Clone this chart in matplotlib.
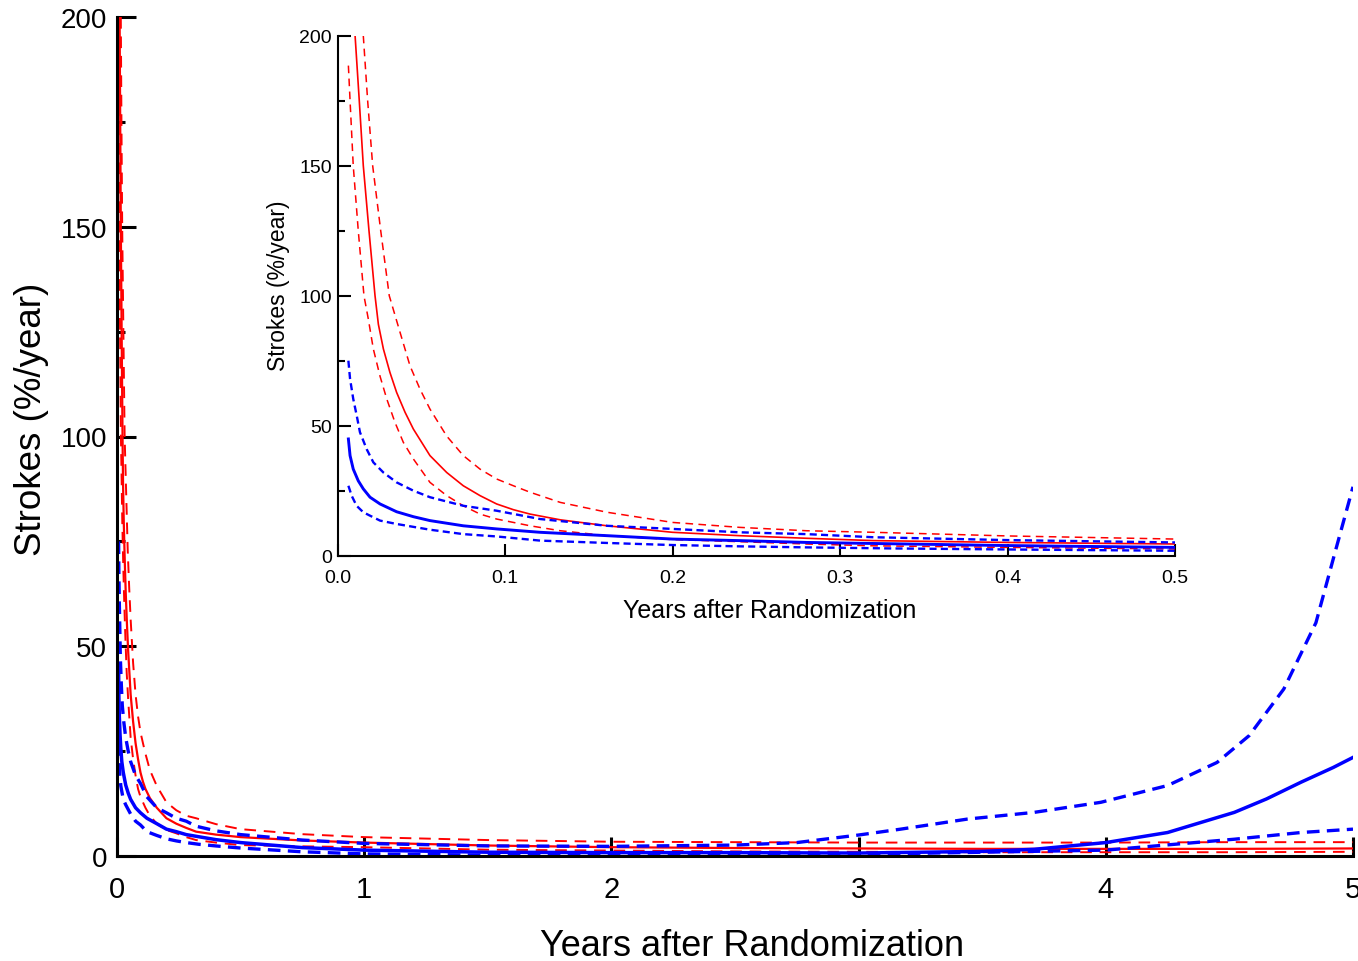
import matplotlib
matplotlib.use("Agg")
import matplotlib.pyplot as plt
from matplotlib.ticker import MultipleLocator

plt.rcParams["font.family"] = ["Liberation Sans", "DejaVu Sans"]

# -----------------------------
# Data (years, strokes %/year)
# -----------------------------

red_mid_t = [0.0105, 0.0130, 0.0154, 0.0188, 0.0224, 0.0244, 0.0274, 0.0313, 0.0353, 0.0403,
             0.0453, 0.0552, 0.0652, 0.0751, 0.0851, 0.095, 0.105, 0.115, 0.133, 0.161,
             0.2, 0.24, 0.28, 0.32, 0.4, 0.5, 0.75, 1.0, 1.5, 2.0,
             2.5, 3.0, 3.5, 4.0, 4.5, 5.0]
red_mid_v = [200, 175, 150, 125, 100, 89, 79.5, 70.5, 62.8, 55.2,
             48.7, 38.5, 32, 26.9, 23.1, 19.9, 17.7, 16.0, 13.8, 11.5,
             9.0, 7.7, 6.7, 5.8, 5.1, 4.5, 3.7, 3.2, 2.5, 2.1,
             1.9, 1.8, 1.7, 1.7, 1.7, 1.8]

red_hi_t = [0.0154, 0.018, 0.021, 0.0258, 0.0309, 0.0373, 0.0433, 0.0493, 0.0552, 0.0652,
            0.0751, 0.0851, 0.095, 0.105, 0.115, 0.133, 0.161, 0.2, 0.24, 0.28,
            0.32, 0.4, 0.5, 0.75, 1.0, 1.5, 2.0, 2.5, 3.0, 3.5,
            4.0, 4.5, 5.0]
red_hi_v = [200, 175, 150, 125, 100, 86, 73, 64, 56.4, 46,
            38.5, 33.3, 29.5, 26.9, 24.4, 20.5, 16.7, 12.8, 10.9, 9.6,
            9.0, 7.6, 6.4, 5.2, 4.5, 3.8, 3.4, 3.3, 3.2, 3.2,
            3.2, 3.3, 3.3]

red_lo_t = [0.0065, 0.0075, 0.0094, 0.0124, 0.0158, 0.0184, 0.0214, 0.0254, 0.0294, 0.0343,
            0.0393, 0.0453, 0.0552, 0.0652, 0.0751, 0.0851, 0.095, 0.115, 0.133, 0.161,
            0.2, 0.24, 0.28, 0.32, 0.4, 0.5, 0.75, 1.0, 1.5, 2.0,
            2.5, 3.0, 3.5, 4.0, 4.5, 5.0]
red_lo_v = [188.5, 175, 150, 125, 100, 91, 79.5, 69, 60.3, 51.3,
            43.6, 37.2, 28.2, 23.1, 19.2, 16.0, 14.1, 11.5, 9.6, 7.7,
            6.2, 5.4, 4.5, 3.8, 3.2, 2.6, 2.3, 2.1, 1.5, 1.3,
            1.1, 1.0, 0.9, 0.9, 0.9, 1.0]

blue_hi_t = [0.0065, 0.0075, 0.0094, 0.0115, 0.0134, 0.0174, 0.0214, 0.0274, 0.0353, 0.0453,
             0.0552, 0.0751, 0.095, 0.121, 0.161, 0.2, 0.24, 0.28, 0.32, 0.4,
             0.5, 0.75, 1.0, 1.5, 2.0, 2.5, 2.75, 3.0, 3.17, 3.44,
             3.71, 3.98, 4.25, 4.45, 4.58, 4.72, 4.85, 4.92, 5.0]
blue_hi_v = [75, 68, 60.3, 53.8, 47.5, 41, 35.9, 32, 28.2, 25,
             22.5, 19.2, 17.3, 14.1, 11.5, 10.3, 9.0, 8.3, 7.1, 6.0,
             5.1, 3.8, 3.0, 2.4, 2.3, 2.6, 3.2, 5.0, 6.4, 8.8,
             10.4, 12.8, 16.8, 22.3, 28.7, 39.8, 55.6, 70.8, 88]

blue_mid_t = [0.0065, 0.0075, 0.0094, 0.0124, 0.0154, 0.0194, 0.0254, 0.0353, 0.0453, 0.0552,
              0.0751, 0.095, 0.121, 0.161, 0.2, 0.24, 0.28, 0.33, 0.4, 0.5,
              0.75, 1.0, 1.5, 2.0, 2.5, 3.0, 3.5, 3.71, 4.0, 4.25,
              4.52, 4.65, 4.79, 4.92, 5.0]
blue_mid_v = [44.9, 38.5, 33.3, 28.8, 25.7, 22.5, 19.9, 16.9, 15.0, 13.5,
              11.5, 10.3, 9.0, 7.7, 6.4, 5.8, 5.1, 4.6, 3.9, 3.2,
              2.0, 1.4, 0.9, 0.8, 0.8, 0.7, 1.1, 1.6, 3.2, 5.6,
              10.4, 13.6, 17.6, 21.1, 23.5]

blue_lo_t = [0.0065, 0.0085, 0.0114, 0.0154, 0.0194, 0.0254, 0.0353, 0.0552, 0.0751, 0.095,
             0.121, 0.161, 0.2, 0.24, 0.28, 0.33, 0.4, 0.5, 0.75, 1.0,
             1.5, 2.0, 2.5, 3.0, 3.5, 4.0, 4.22, 4.52, 4.79, 5.0]
blue_lo_v = [26.9, 23, 19.2, 16.7, 15.4, 13.5, 12.2, 10.0, 8.3, 7.4,
             5.8, 4.9, 4.1, 3.6, 3.2, 2.8, 2.4, 1.9, 1.0, 0.5,
             0.2, 0.1, 0.1, 0.4, 0.9, 1.4, 2.5, 4.0, 5.6, 6.4]

main_xticks = [0, 1, 2, 3, 4, 5]
main_yticks = [0, 50, 100, 150, 200]
inset_xticks = [0.0, 0.1, 0.2, 0.3, 0.4, 0.5]
inset_yticks = [0, 50, 100, 150, 200]

RED = "#ff0000"
BLUE = "#0000ff"

# -----------------------------
# Figure and main axes
# -----------------------------

fig = plt.figure(figsize=(13.58, 9.62), dpi=100)
ax = fig.add_axes([117 / 1358, 105 / 962, 1236 / 1358, 839 / 962])

ax.plot(red_hi_t, red_hi_v, color=RED, lw=1.4, dashes=(6, 4))
ax.plot(red_lo_t, red_lo_v, color=RED, lw=1.4, dashes=(6, 4))
ax.plot(red_mid_t, red_mid_v, color=RED, lw=1.6)
ax.plot(blue_hi_t, blue_hi_v, color=BLUE, lw=2.4, dashes=(3.8, 2.2))
ax.plot(blue_lo_t, blue_lo_v, color=BLUE, lw=2.4, dashes=(3.8, 2.2))
ax.plot(blue_mid_t, blue_mid_v, color=BLUE, lw=2.5)

ax.set_xlim(0, 5)
ax.set_ylim(0, 200)
ax.set_xticks(main_xticks)
ax.set_yticks(main_yticks)
ax.yaxis.set_minor_locator(MultipleLocator(25))

for side in ["top", "right"]:
    ax.spines[side].set_visible(False)
for side in ["left", "bottom"]:
    ax.spines[side].set_linewidth(2.2)

ax.tick_params(axis="both", which="major", direction="in", length=14, width=2.2)
ax.tick_params(axis="y", which="minor", direction="in", length=6, width=2.2)
ax.tick_params(axis="y", labelsize=20, pad=7)
ax.tick_params(axis="x", labelsize=21, pad=14)

fig.text(752 / 1358, 1 - 947 / 962, "Years after Randomization",
         fontsize=26, ha="center", va="center")
fig.text(32 / 1358, 1 - 419 / 962, "Strokes (%/year)",
         fontsize=26.5, ha="center", va="center", rotation=90)

# -----------------------------
# Inset: first half year
# -----------------------------

ins = fig.add_axes([337.5 / 1358, 405.3 / 962, 837.5 / 1358, 520 / 962])
ins.set_facecolor("none")

ins.plot(red_hi_t, red_hi_v, color=RED, lw=1.1, dashes=(5, 3.5))
ins.plot(red_lo_t, red_lo_v, color=RED, lw=1.1, dashes=(5, 3.5))
ins.plot(red_mid_t, red_mid_v, color=RED, lw=1.2)
ins.plot(blue_hi_t, blue_hi_v, color=BLUE, lw=1.7, dashes=(3, 1.8))
ins.plot(blue_lo_t, blue_lo_v, color=BLUE, lw=1.7, dashes=(3, 1.8))
ins.plot(blue_mid_t, blue_mid_v, color=BLUE, lw=2.1)

ins.set_xlim(0, 0.5)
ins.set_ylim(0, 200)
ins.set_xticks(inset_xticks)
ins.set_xticklabels([f"{v:.1f}" for v in inset_xticks])
ins.set_yticks(inset_yticks)
ins.yaxis.set_minor_locator(MultipleLocator(25))

for side in ["top", "right"]:
    ins.spines[side].set_visible(False)
for side in ["left", "bottom"]:
    ins.spines[side].set_linewidth(1.5)

ins.tick_params(axis="both", which="major", direction="in", length=9, width=1.5)
ins.tick_params(axis="y", which="minor", direction="in", length=5, width=1.5)
ins.tick_params(axis="y", labelsize=14, pad=4)
ins.tick_params(axis="x", labelsize=14, pad=9.5)

fig.text(770 / 1358, 1 - 611 / 962, "Years after Randomization",
         fontsize=18, ha="center", va="center")
fig.text(279 / 1358, 1 - 286 / 962, "Strokes (%/year)",
         fontsize=16.5, ha="center", va="center", rotation=90)

fig.savefig("out.png", dpi=100)
